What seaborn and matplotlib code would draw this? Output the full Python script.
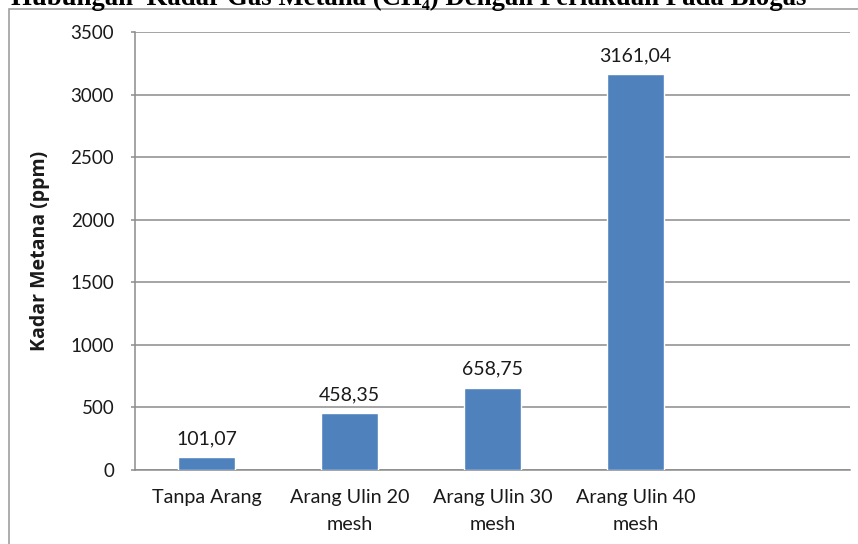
import matplotlib
matplotlib.use("Agg")
import matplotlib.pyplot as plt
import seaborn as sns
import pandas as pd
from matplotlib.patches import Rectangle

categories = ["Tanpa Arang", "Arang Ulin 20\nmesh", "Arang Ulin 30\nmesh", "Arang Ulin 40\nmesh"]
values = [101.07, 458.35, 658.75, 3161.04]
value_labels = ["101,07", "458,35", "658,75", "3161,04"]
yticks = [0, 500, 1000, 1500, 2000, 2500, 3000, 3500]
title = "Hubungan  Kadar Gas Metana (CH\u2084) Dengan Perlakuan Pada Biogas"
ylabel = "Kadar Metana (ppm)"

sns.set_theme(style="white")
plt.rcParams['font.family'] = ['Lato', 'DejaVu Sans']

W, H = 858, 544
fig = plt.figure(figsize=(W / 100, H / 100), dpi=100)
ax = fig.add_axes([135 / W, 1 - 470 / H, (850 - 135) / W, (470 - 32) / H])

df = pd.DataFrame({"cat": categories, "val": values})
sns.barplot(data=df, x="cat", y="val", color="#4F81BD", saturation=1,
            width=0.4, ax=ax, zorder=3)

ax.set_xlim(-0.5, 4.5)
ax.set_ylim(0, 3500)
ax.set_yticks(yticks)
ax.set_yticklabels([str(t) for t in yticks])
grid_c = "#8C8C8C"
ax.yaxis.grid(True, color=grid_c, linewidth=1.1, zorder=0)
ax.set_axisbelow(True)
for s in ["top", "right"]:
    ax.spines[s].set_visible(False)
for s in ["left", "bottom"]:
    ax.spines[s].set_color(grid_c)
    ax.spines[s].set_linewidth(1.1)
txt_c = "#1a1a1a"
ax.tick_params(axis="y", length=3, width=1.1, color=grid_c, pad=12,
               labelsize=13.5, labelcolor=txt_c, left=True)
ax.tick_params(axis="x", length=0, pad=14, labelsize=14.2, labelcolor=txt_c)
for lab in ax.get_xticklabels():
    lab.set_linespacing(1.65)
ax.set_xlabel("")
ax.set_ylabel(ylabel, fontsize=14, fontweight="bold", color=txt_c,
              family=["Open Sans", "DejaVu Sans"])
ax.yaxis.set_label_coords(-(135 - 50) / (850 - 135), 0.5)

for i, (v, lab) in enumerate(zip(values, value_labels)):
    ax.annotate(lab, xy=(i, v), xytext=(0, 7), textcoords="offset points",
                ha="center", va="bottom", fontsize=14, color=txt_c)

# outer border box
fig.patches.append(Rectangle((9 / W, -0.1), 1.2, 1 - 9 / H + 0.1,
                             transform=fig.transFigure, fill=False,
                             edgecolor="#A0A0A0", linewidth=1.2))

fig.text(11 / W, 1 - 5 / H, title, ha="left", va="baseline",
         fontsize=19.3, fontweight="bold",
         family=["Liberation Serif", "DejaVu Serif"], color="black")

fig.savefig("out.png", dpi=100)
